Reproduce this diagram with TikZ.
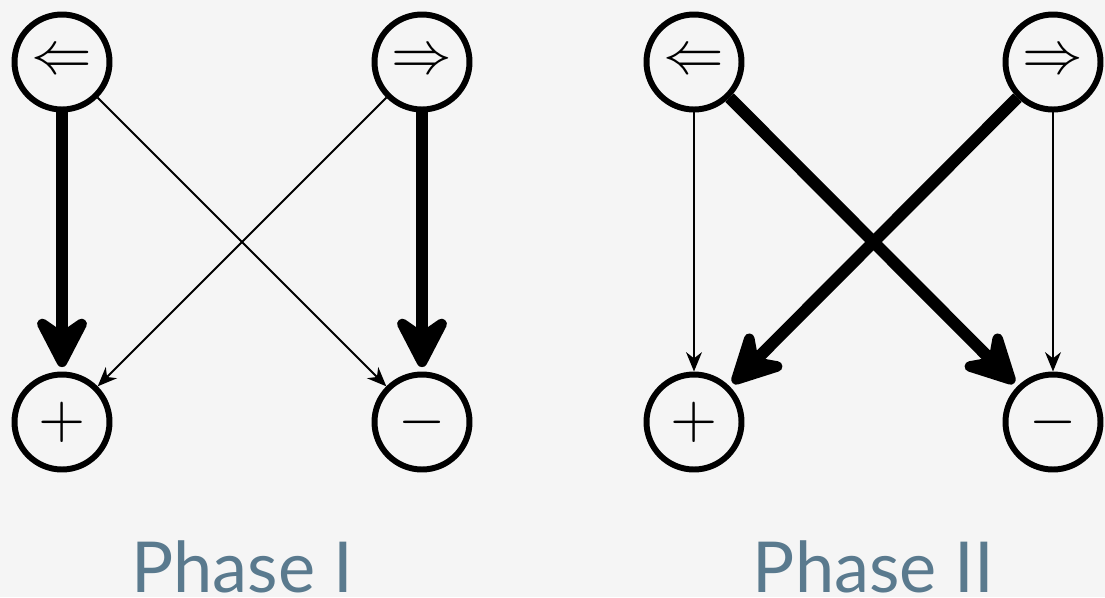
\documentclass[tikz,border=0pt]{standalone}
\usepackage{amsmath}
\usepackage{amssymb}
\usepackage{graphicx}
\usepackage{fontspec}
\newfontfamily\phasefont{Lato}
\usetikzlibrary{arrows.meta}
\definecolor{phaseblue}{RGB}{90,122,142}
\definecolor{paper}{RGB}{245,245,245}
\newcommand{\statesym}[1]{\scalebox{3.45}{$#1$}}

\begin{document}
\begin{tikzpicture}
\tikzstyle{state}=[draw, circle, line width=3.4pt, minimum size=1.9cm, inner sep=0pt]
\tikzstyle{strong}=[line width=6.8pt, -{Stealth[round, length=37pt, width=38pt, inset=13pt]}, shorten >=2.5pt]
\tikzstyle{weak}=[line width=1.1pt, -{Stealth[length=11pt, width=9pt, inset=3.5pt]}]
\tikzstyle{phase}=[text=phaseblue, font=\phasefont\fontsize{40}{40}\selectfont, anchor=base, inner sep=0pt]

\fill[paper] (0,0) rectangle (22.1,-11.94);
\useasboundingbox (0,0) rectangle (22.1,-11.94);

% first phase
\node[state](left1)  at (1.24,-1.24){\statesym{\Leftarrow}};
\node[state](right1) at (8.44,-1.24){\statesym{\Rightarrow}};
\node[state](plus1)  at (1.24,-8.44){\statesym{+}};
\node[state](minus1) at (8.44,-8.44){\statesym{-}};

\path[draw, strong](left1) -- (plus1);
\path[draw, strong](right1) -- (minus1);
\path[draw, weak](left1) -- (minus1);
\path[draw, weak](right1) -- (plus1);

\node[phase](lab1) at (4.84,-11.84){Phase I};

% second phase
\node[state](left2)  at (13.88,-1.24){\statesym{\Leftarrow}};
\node[state](right2) at (21.06,-1.24){\statesym{\Rightarrow}};
\node[state](plus2)  at (13.88,-8.44){\statesym{+}};
\node[state](minus2) at (21.06,-8.44){\statesym{-}};

\path[draw, weak](left2) -- (plus2);
\path[draw, weak](right2) -- (minus2);
\path[draw, strong](left2) -- (minus2);
\path[draw, strong](right2) -- (plus2);

\node[phase](lab2) at (17.47,-11.84){Phase II};

\end{tikzpicture}
\end{document}
